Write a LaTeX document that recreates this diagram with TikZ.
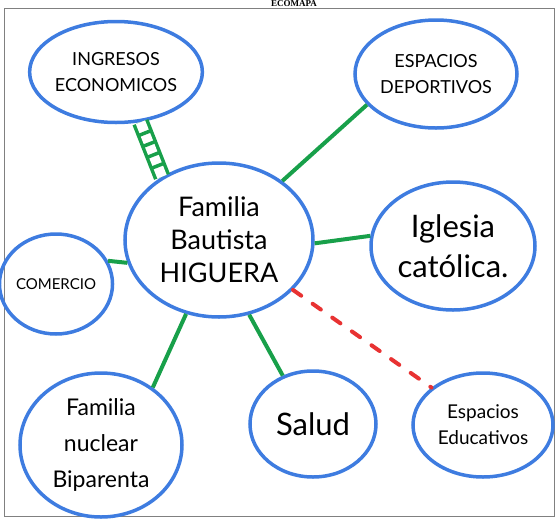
\documentclass[tikz,border=0pt]{standalone}
\usepackage{fontspec}
\setmainfont{Lato}
\newfontfamily\titulofont{Liberation Serif}
\usetikzlibrary{shapes.geometric,decorations.markings}
\definecolor{ecoazul}{RGB}{62,124,224}
\definecolor{ecoverde}{RGB}{24,160,74}
\definecolor{ecorojo}{RGB}{232,50,50}
\tikzstyle{sistema}=[ellipse,draw=ecoazul,line width=3.5pt,inner sep=0pt,align=center]
\tikzstyle{fuerte}=[draw=ecoverde,line width=4pt]
\tikzstyle{estresante}=[draw=ecorojo,line width=4pt,line cap=round,dash pattern=on 10pt off 14pt]
\tikzstyle{escalera}=[draw=ecoverde,line width=3.5pt,double=white,double distance=10pt,
  postaction={decorate},decoration={markings,
  mark=between positions 0.2 and 0.85 step 0.2 with {\draw[ecoverde,line width=3.5pt] (0,-7pt) -- (0,7pt);}}]

\begin{document}
\begin{tikzpicture}[x=1pt,y=-1pt]
\useasboundingbox (0,0) rectangle (558,523);
\draw[gray,line width=0.8pt] (4,8) rectangle (554,516);
\node[anchor=base,font=\titulofont\bfseries\fontsize{9}{10}\selectfont] (titulo) at (294,6.5) {ECOMAPA};
\node[sistema,minimum width=188pt,minimum height=154pt,font=\fontsize{27}{33}\selectfont] (central) at (219,240) {Familia\\Bautista\\HIGUERA};
\node[sistema,minimum width=162pt,minimum height=101pt,font=\fontsize{18}{26}\selectfont] (ingresos) at (116,72) {INGRESOS\\ECONOMICOS};
\node[sistema,minimum width=162pt,minimum height=108pt,font=\fontsize{18}{26}\selectfont] (deportivos) at (436,74) {ESPACIOS\\DEPORTIVOS};
\node[sistema,minimum width=164pt,minimum height=128pt,font=\fontsize{31}{40}\selectfont] (iglesia) at (453,246) {Iglesia\\católica.};
\node[sistema,minimum width=110pt,minimum height=100pt,font=\fontsize{15}{20}\selectfont] (comercio) at (56,284) {COMERCIO};
\node[sistema,minimum width=162pt,minimum height=144pt,font=\fontsize{23}{36}\selectfont] (nuclear) at (101,445) {Familia\\nuclear\\Biparenta};
\node[sistema,minimum width=126pt,minimum height=106pt,font=\fontsize{31}{34}\selectfont] (salud) at (313,424) {Salud};
\node[sistema,minimum width=140pt,minimum height=104pt,font=\fontsize{19}{26}\selectfont] (educativos) at (483,425) {Espacios\\Educativos};
\path[fuerte]
(central.43) edge (deportivos.204)
(central.-2) edge (iglesia.173)
(central.-166) edge (comercio.24)
(central.-114) edge (nuclear.48)
(central.-68) edge (salud.122);
\path (ingresos.-64) edge[escalera] (central.132);
\path (central.-34) edge[estresante] (educativos.144);
\end{tikzpicture}
\end{document}
